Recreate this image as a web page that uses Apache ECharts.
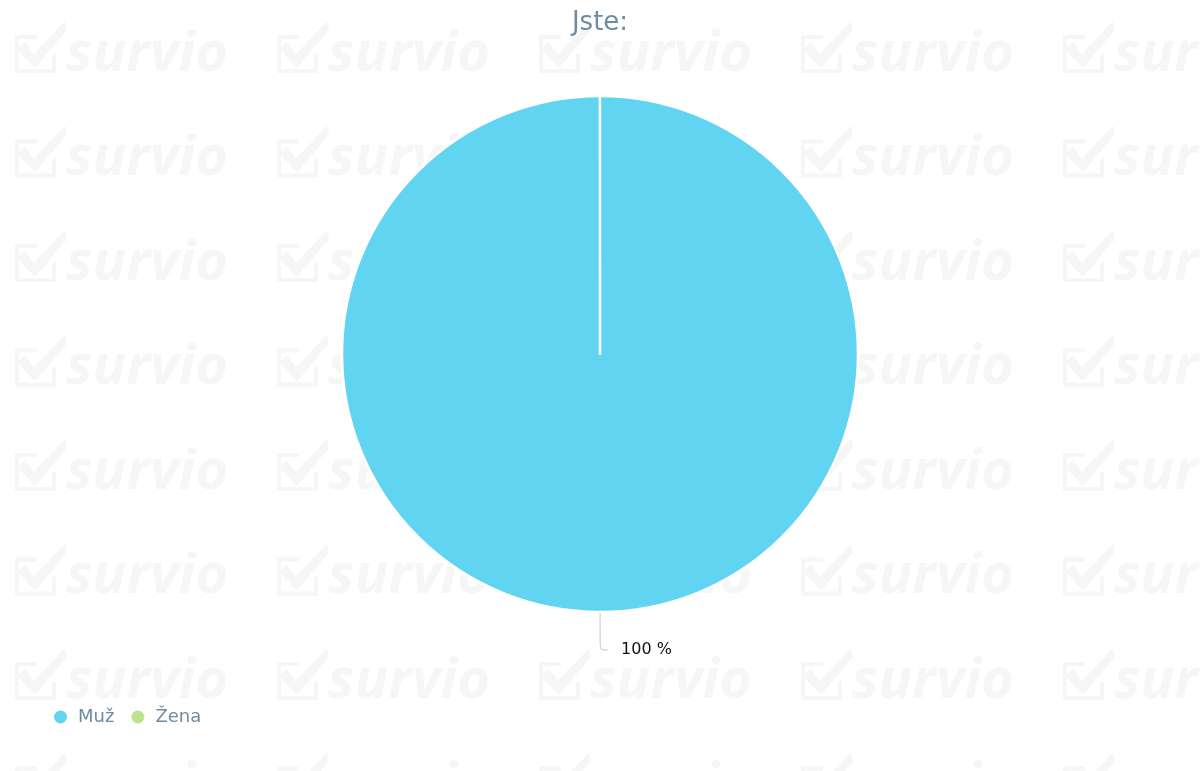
<!DOCTYPE html>
<html>
<head>
<meta charset="utf-8">
<script src="https://cdn.jsdelivr.net/npm/echarts@6/dist/echarts.min.js"></script>
<style>html,body{margin:0;padding:0;background:#fff;}#c{width:1200px;height:771px;}</style>
</head>
<body>
<div id="c"></div>
<script>
var titleText = 'Jste:';
var categories = ['Muž', 'Žena'];
var values = [100, 0];
var colors = ['#61d4f2', '#bde28c'];

var chart = echarts.init(document.getElementById('c'));

// watermark tiles (decoration)
var wm = '#f6f6f6';
var marks = [];
for (var i = 0; i < 5; i++) {
  for (var j = 0; j < 8; j++) {
    var ox = 15 + 262 * i, oy = 18 + 104.5 * j;
    marks.push({
      type: 'polyline', silent: true, z: -10,
      shape: { points: [[ox + 22, oy + 19], [ox + 2, oy + 19], [ox + 2, oy + 53], [ox + 39, oy + 53], [ox + 39, oy + 36]] },
      style: { fill: null, stroke: wm, lineWidth: 4 }
    });
    marks.push({
      type: 'polygon', silent: true, z: -10,
      shape: { points: [[ox + 2, oy + 31], [ox + 10, oy + 24], [ox + 19, oy + 36], [ox + 50, oy + 3], [ox + 52, oy + 12], [ox + 20, oy + 50]] },
      style: { fill: wm }
    });
    marks.push({
      type: 'text', silent: true, z: -10,
      x: ox + 51, y: oy + 65,
      style: { text: 'survio', fill: wm, font: 'italic bold 56px "Open Sans"', textVerticalAlign: 'bottom' }
    });
  }
}

chart.setOption({
  backgroundColor: '#fff',
  title: {
    text: titleText, left: 'center', top: 5,
    textStyle: { color: '#6e8ca4', fontSize: 26, fontWeight: 'normal', fontFamily: 'DejaVu Sans' }
  },
  legend: {
    left: 47, top: 703, icon: 'circle', itemWidth: 15, itemHeight: 15, itemGap: 15,
    data: categories,
    textStyle: { color: '#6e8ca4', fontSize: 18, fontFamily: 'DejaVu Sans', padding: [0, 0, 0, 5] }
  },
  graphic: marks,
  series: [{
    type: 'pie',
    center: [600, 354],
    radius: 258,
    startAngle: 90.02,
    clockwise: true,
    avoidLabelOverlap: false,
    itemStyle: { borderColor: '#fff', borderWidth: 2.5 },
    label: {
      formatter: '{d} %', color: '#111', fontSize: 16, fontFamily: 'DejaVu Sans',
      distanceToLabelLine: 13
    },
    labelLine: { length: 38, length2: 8, smooth: 0.3, lineStyle: { color: '#d8d8d8', width: 1.5 } },
    emphasis: { scale: false },
    data: categories.map(function (c, k) {
      return {
        name: c, value: values[k],
        itemStyle: { color: colors[k] },
        label: { show: values[k] > 0 },
        labelLine: { show: values[k] > 0 }
      };
    })
  }]
});
</script>
</body>
</html>
